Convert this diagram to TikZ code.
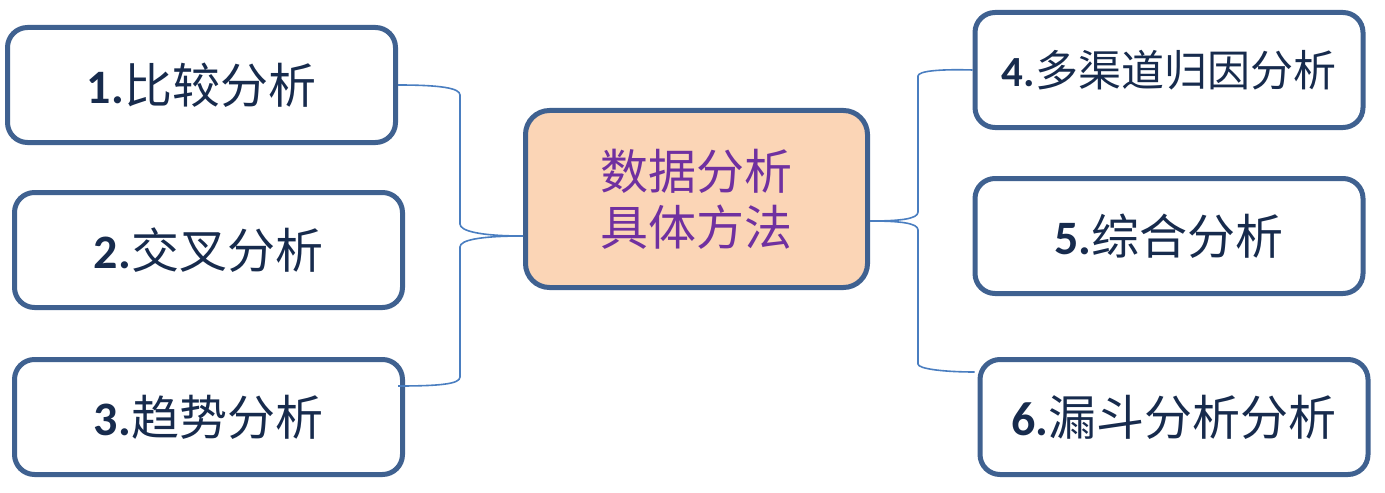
\documentclass[tikz,border=0pt]{standalone}
\usepackage{fontspec}
\newfontfamily\cjk{Noto Sans CJK SC}
\newfontfamily\lat{Carlito}
\definecolor{bordc}{HTML}{3F6190}
\definecolor{linkc}{HTML}{4A7EC0}
\definecolor{peach}{HTML}{FBD5B6}
\definecolor{navy}{HTML}{172B4D}
\definecolor{purp}{HTML}{7030A0}
\tikzset{
  leaf/.style={draw=bordc, line width=2.5pt, rounded corners=10pt, fill=white,
    minimum width=194pt, minimum height=57.5pt, inner sep=0pt,
    text=navy, font=\fontsize{24}{28}\selectfont},
  hub/.style={draw=bordc, line width=2.5pt, rounded corners=12pt, fill=peach,
    minimum width=171pt, minimum height=88.5pt, inner sep=0pt, align=center,
    text=purp, font=\fontsize{24}{28}\selectfont\cjk},
  link/.style={draw=linkc, line width=0.8pt}
}
\begin{document}
\begin{tikzpicture}[x=0.5pt,y=-0.5pt]
\useasboundingbox (0,0) rectangle (1385,492);
\node[hub] (c) at (696.5,199) {数据分析\\具体方法};
\node[leaf] (b1) at (201.5,85) {{\lat\bfseries 1.}{\cjk 比较分析}};
\node[leaf] (b2) at (208.5,250) {{\lat\bfseries 2.}{\cjk 交叉分析}};
\node[leaf] (b3) at (208.5,417) {{\lat\bfseries 3.}{\cjk 趋势分析}};
\node[leaf, font=\fontsize{21.5}{26}\selectfont] (b4) at (1169,70) {{\lat\bfseries 4.}{\cjk 多渠道归因分析}};
\node[leaf] (b5) at (1169,236) {{\lat\bfseries 5.}{\cjk 综合分析}};
\node[leaf] (b6) at (1174,417) {{\lat\bfseries 6.}{\cjk 漏斗分析分析}};
% left connectors
\coordinate (cl) at ([yshift=-18.5pt]c.west);
\coordinate (cr) at ([yshift=-11pt]c.east);
\coordinate (b3c) at ([yshift=15.5pt,xshift=-3.5pt]b3.east);
\coordinate (b6c) at ([yshift=22.5pt,xshift=-1.5pt]b6.west);
\draw[link] (cl) .. controls (480,236) and (460,231) .. (460,224)
  -- (460,95) .. controls (460,88) and (440,85) .. (b1.east);
\draw[link] (cl) .. controls (480,236) and (460,240) .. (460,247)
  -- (460,377) .. controls (460,384) and (440,386) .. (b3c);
% right connectors
\draw[link] (cr) .. controls (900,221) and (918,219) .. (918,212)
  -- (918,76) .. controls (918,71) and (940,69) .. (b4.west);
\draw[link] (cr) .. controls (900,221) and (918,223) .. (918,230)
  -- (918,364) .. controls (918,369) and (945,372) .. (b6c);
\end{tikzpicture}
\end{document}
